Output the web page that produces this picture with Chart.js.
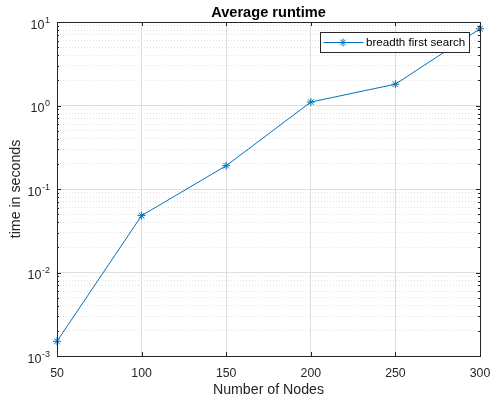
<!DOCTYPE html>
<html>
<head>
<meta charset="utf-8">
<script src="https://cdn.jsdelivr.net/npm/chart.js@4/dist/chart.umd.min.js"></script>
<style>
  html, body { margin: 0; padding: 0; background: #fff; }
  #wrap { width: 492px; height: 401px; }
</style>
</head>
<body>
<div id="wrap"><canvas id="chart"></canvas></div>
<script>
// data
const nodes = [50, 100, 150, 200, 250, 300];
const runtimes = [0.0015, 0.048, 0.19, 1.1, 1.8, 8.3];
const seriesLabel = "breadth first search";
const xTicks = [50, 100, 150, 200, 250, 300];
const yDecades = [1e-3, 1e-2, 1e-1, 1e0, 1e1];
const yExponents = ["-3", "-2", "-1", "0", "1"];

const LINE = "#0072BD";
const INK = "#262626";
const FONT = "'Liberation Sans', Arial, sans-serif";

// major + minor log ticks (1..9 per decade)
const yAllTicks = [];
yDecades.forEach((d, i) => {
    if (i === yDecades.length - 1) { yAllTicks.push(d); return; }
    for (let m = 1; m < 10; m++) yAllTicks.push(+(d * m).toPrecision(3));
});
const isDecade = (v) => yDecades.some((d) => Math.abs(v / d - 1) < 1e-6);

const matlabDecor = {
    id: "matlabDecor",
    afterDraw(chart) {
        const ctx = chart.ctx;
        const a = chart.chartArea;
        const xs = chart.scales.x;
        const ys = chart.scales.y;
        ctx.save();

        // ticks on all four sides, pointing inward
        ctx.strokeStyle = INK;
        ctx.lineWidth = 1;
        ctx.beginPath();
        xTicks.forEach((v) => {
            const px = Math.round(xs.getPixelForValue(v)) + 0.5;
            ctx.moveTo(px, a.bottom); ctx.lineTo(px, a.bottom - 4);
            ctx.moveTo(px, a.top); ctx.lineTo(px, a.top + 4);
        });
        yAllTicks.forEach((v) => {
            const py = Math.round(ys.getPixelForValue(v)) + 0.5;
            const len = isDecade(v) ? 4 : 2;
            ctx.moveTo(a.left, py); ctx.lineTo(a.left + len, py);
            ctx.moveTo(a.right, py); ctx.lineTo(a.right - len, py);
        });
        ctx.stroke();

        // box
        ctx.strokeRect(Math.round(a.left) + 0.5, Math.round(a.top) + 0.5,
            Math.round(a.right - a.left), Math.round(a.bottom - a.top));

        // y tick labels with superscript exponent
        ctx.fillStyle = INK;
        ctx.textBaseline = "middle";
        ctx.textAlign = "right";
        yDecades.forEach((v, i) => {
            const py = ys.getPixelForValue(v);
            ctx.font = "9px " + FONT;
            const ew = ctx.measureText(yExponents[i]).width;
            ctx.fillText(yExponents[i], 50, py - 1.5);
            ctx.font = "12.5px " + FONT;
            ctx.fillText("10", 50 - ew - 0.5, py + 3.5);
        });

        // title
        ctx.textAlign = "center";
        ctx.font = "bold 14.6px " + FONT;
        ctx.fillStyle = "#000";
        ctx.fillText("Average runtime", (a.left + a.right) / 2, 12.5);

        // axis titles
        ctx.fillStyle = INK;
        ctx.font = "14.2px " + FONT;
        ctx.fillText("Number of Nodes", (a.left + a.right) / 2, 390);
        ctx.save();
        ctx.translate(16, (a.top + a.bottom) / 2);
        ctx.rotate(-Math.PI / 2);
        ctx.fillText("time in seconds", 0, 0);
        ctx.restore();

        // legend box (inside axes, top right)
        const lx = 320.5, ly = 32.5, lw = 149, lh = 20;
        ctx.fillStyle = "#fff";
        ctx.fillRect(lx, ly, lw, lh);
        ctx.strokeStyle = INK;
        ctx.lineWidth = 1;
        ctx.strokeRect(lx, ly, lw, lh);
        const cy = ly + lh / 2;
        ctx.strokeStyle = LINE;
        ctx.beginPath();
        ctx.moveTo(lx + 3, cy); ctx.lineTo(lx + 43, cy);
        ctx.stroke();
        Chart.helpers.drawPoint(ctx, {
            pointStyle: "star", radius: 4, borderWidth: 1, rotation: 0
        }, lx + 22.5, cy);
        ctx.fillStyle = "#000";
        ctx.textAlign = "left";
        ctx.font = "11.6px " + FONT;
        ctx.fillText(chart.data.datasets[0].label, lx + 45.5, cy + 0.5);

        ctx.restore();
    }
};

new Chart(document.getElementById("chart"), {
    type: "line",
    data: {
        datasets: [{
            label: seriesLabel,
            data: nodes.map((n, i) => ({ x: n, y: runtimes[i] })),
            borderColor: LINE,
            backgroundColor: LINE,
            borderWidth: 1,
            pointStyle: "star",
            pointRadius: 4,
            pointBorderWidth: 1,
            pointBorderColor: LINE,
            tension: 0,
            clip: false,
        }],
    },
    options: {
        responsive: true,
        maintainAspectRatio: false,
        animation: false,
        events: [],
        layout: { padding: { top: 22, right: 12, left: 0, bottom: 0 } },
        plugins: {
            legend: { display: false },
            tooltip: { enabled: false },
            title: { display: false },
        },
        scales: {
            x: {
                type: "linear",
                min: 50,
                max: 300,
                afterBuildTicks: (scale) => { scale.ticks = xTicks.map((v) => ({ value: v })); },
                afterFit: (scale) => {
                    scale.height = 45;
                    scale.paddingLeft = 0;
                    scale.paddingRight = 0;
                },
                ticks: {
                    color: INK,
                    font: { family: FONT, size: 12.3 },
                    padding: 10,
                    maxRotation: 0,
                },
                grid: {
                    drawTicks: false,
                    color: (c) => (c.tick && (c.tick.value === 50 || c.tick.value === 300)) ? "rgba(0,0,0,0)" : "#dedede",
                },
                border: { display: false },
            },
            y: {
                type: "logarithmic",
                min: 1e-3,
                max: 10,
                afterBuildTicks: (scale) => { scale.ticks = yAllTicks.map((v) => ({ value: v })); },
                afterFit: (scale) => {
                    scale.width = 57;
                    scale.paddingTop = 0;
                    scale.paddingBottom = 0;
                },
                ticks: { display: false },
                grid: {
                    drawTicks: false,
                    color: (c) => c.tick ? (isDecade(c.tick.value) ? "#dedede" : "#e2e2e2") : "#dedede",
                },
                border: {
                    display: false,
                    dash: (c) => (c.tick && !isDecade(c.tick.value)) ? [1, 2] : [],
                },
            },
        },
    },
    plugins: [matlabDecor],
});
</script>
</body>
</html>
